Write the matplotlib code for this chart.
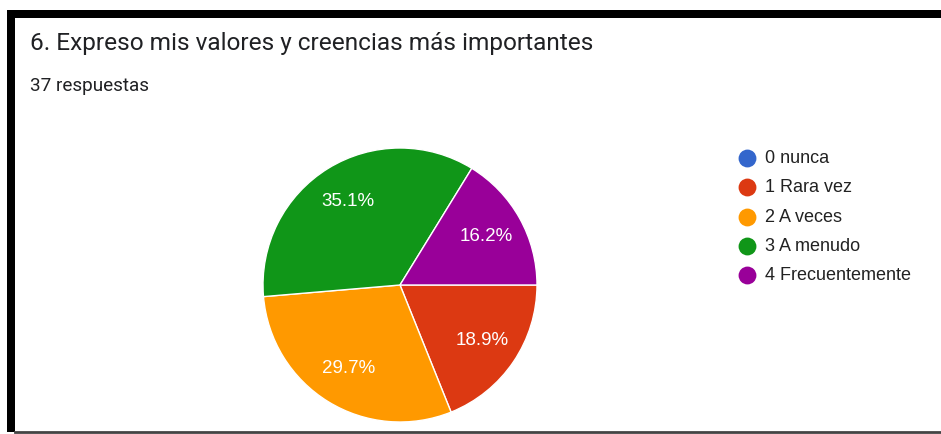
import matplotlib
matplotlib.use('Agg')
import matplotlib.pyplot as plt
from matplotlib.patches import Rectangle

# respuestas por opción (37 en total)
categorias = ['0 nunca', '1 Rara vez', '2 A veces', '3 A menudo', '4 Frecuentemente']
respuestas = [0, 7, 11, 13, 6]
colores = ['#3366cc', '#dc3912', '#ff9900', '#109618', '#990099']

titulo = '6. Expreso mis valores y creencias más importantes'
subtitulo = '37 respuestas'

W, H = 941, 434
fig = plt.figure(figsize=(W / 100, H / 100), dpi=100)
fig.patch.set_facecolor('white')

# capa en píxeles para marco, títulos y leyenda
capa = fig.add_axes([0, 0, 1, 1])
capa.set_xlim(0, W)
capa.set_ylim(H, 0)
capa.axis('off')

# marco negro (arriba e izquierda) y línea gris abajo
capa.add_patch(Rectangle((7, 10), W - 7, 8, color='black', lw=0))
capa.add_patch(Rectangle((7, 10), 8, 422, color='black', lw=0))
capa.plot([15, W], [431.5, 431.5], color='#444444', lw=2)

capa.text(30, 50, titulo, fontsize=17.6, family='Roboto', color='#202124', va='baseline')
capa.text(30, 91, subtitulo, fontsize=13.6, family='Roboto', color='#202124', va='baseline')

# leyenda
for i, (cat, col) in enumerate(zip(categorias, colores)):
    y = 158 + i * 29.25
    capa.scatter(747, y, s=165, color=col, lw=0, zorder=3)
    capa.text(765, y + 0.5, cat, fontsize=13, family='Liberation Sans', color='#222222', va='center')

# pastel
cx, cy, r = 400, 285, 137
ax = fig.add_axes([(cx - r) / W, (H - cy - r) / H, 2 * r / W, 2 * r / H])
datos = [(v, c) for v, c in zip(respuestas, colores) if v > 0]
vals = [d[0] for d in datos]
cols = [d[1] for d in datos]
wedges, _, autotexts = ax.pie(vals, colors=cols, startangle=0, counterclock=False,
                              autopct='%1.1f%%', pctdistance=0.72,
                              wedgeprops=dict(edgecolor='white', linewidth=1),
                              textprops=dict(color='white', fontsize=13.5, family='Liberation Sans'))
ax.set_xlim(-1, 1)
ax.set_ylim(-1, 1)
ax.set_aspect('equal')

fig.savefig('out.png', dpi=100)
